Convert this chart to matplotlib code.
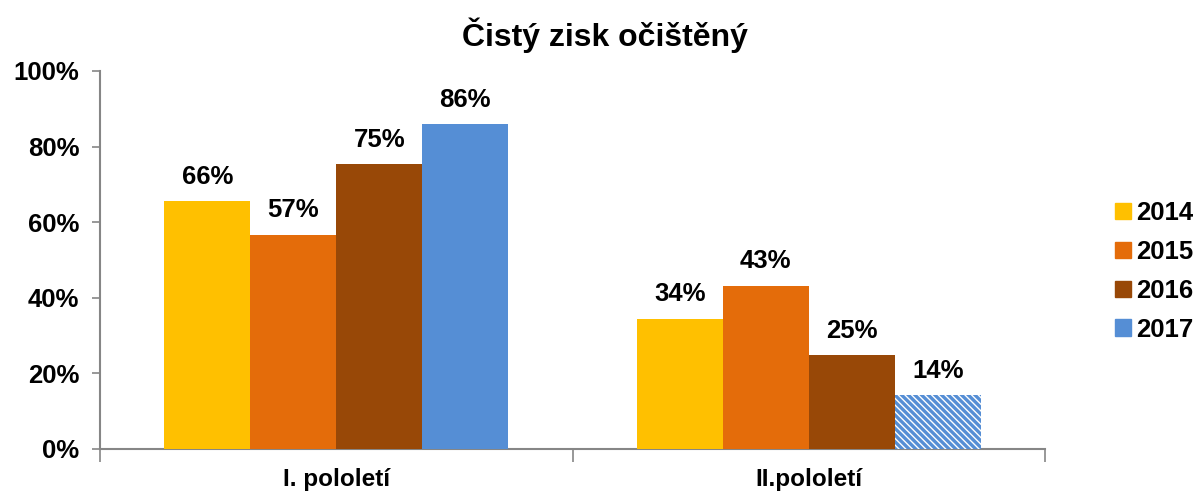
import numpy as np
import matplotlib.pyplot as plt

# Cisty zisk ocisteny - share per half-year
categories = ["I. pololetí", "II.pololetí"]
years = ["2014", "2015", "2016", "2017"]
v2014 = [0.655, 0.345]
v2015 = [0.567, 0.432]
v2016 = [0.753, 0.248]
v2017 = [0.859, 0.142]
labels_2014 = ["66%", "34%"]
labels_2015 = ["57%", "43%"]
labels_2016 = ["75%", "25%"]
labels_2017 = ["86%", "14%"]

colors = ["#FFC000", "#E46C0A", "#984807", "#558ED5"]

plt.rcParams["font.family"] = ["Liberation Sans", "DejaVu Sans"]
plt.rcParams["font.weight"] = "bold"
plt.rcParams["hatch.linewidth"] = 2.4

fig = plt.figure(figsize=(11.95, 4.92), dpi=100)
ax = fig.add_axes([0.0837, 0.0874, 0.7908, 0.7683])

x = np.arange(len(categories))
width = 0.182
series = [v2014, v2015, v2016, v2017]
labels = [labels_2014, labels_2015, labels_2016, labels_2017]

for i, (vals, labs) in enumerate(zip(series, labels)):
    offs = (i - 1.5) * width
    bars = ax.bar(x + offs, vals, width=width, color=colors[i], label=years[i],
                  linewidth=0, zorder=3)
    if years[i] == "2017":
        # second half of 2017 is an estimate -> striped bar
        b = bars[1]
        b.set_facecolor("white")
        b.set_edgecolor(colors[i])
        b.set_hatch("\\\\\\\\\\")
    ax.bar_label(bars, labels=labs, padding=9, fontsize=18.5, fontweight="bold")

ax.set_xlim(-0.5, 1.5)
ax.set_ylim(0, 1.0)
ax.set_yticks(np.arange(0, 1.01, 0.2))
ax.set_yticklabels([f"{int(round(t * 100))}%" for t in np.arange(0, 1.01, 0.2)],
                   fontsize=18.5, fontweight="bold")

ax.set_xticks([-0.5, 0.5, 1.5])
ax.set_xticklabels([])
ax.set_xticks(x, minor=True)
ax.set_xticklabels(categories, minor=True, fontsize=17.5, fontweight="bold")
ax.tick_params(axis="x", which="major", length=9, width=1.2, color="#868686", direction="out")
ax.tick_params(axis="x", which="minor", length=0, pad=14)
ax.tick_params(axis="y", length=6, width=1.2, color="#868686", direction="out", pad=9)

for side in ["top", "right"]:
    ax.spines[side].set_visible(False)
for side in ["left", "bottom"]:
    ax.spines[side].set_color("#868686")
    ax.spines[side].set_linewidth(1.5)

fig.suptitle("Čistý zisk očištěný", x=0.506, y=0.929, va="center",
             fontsize=23, fontweight="bold")

handles = [plt.Rectangle((0, 0), 1, 1, color=c) for c in colors]
leg = ax.legend(handles, years, loc="center left", bbox_to_anchor=(1.05, 0.47),
                frameon=False, handlelength=0.6, handleheight=0.6,
                handletextpad=0.2, labelspacing=0.58,
                prop={"weight": "bold", "size": 18.5})

fig.savefig("out.png", dpi=100)
